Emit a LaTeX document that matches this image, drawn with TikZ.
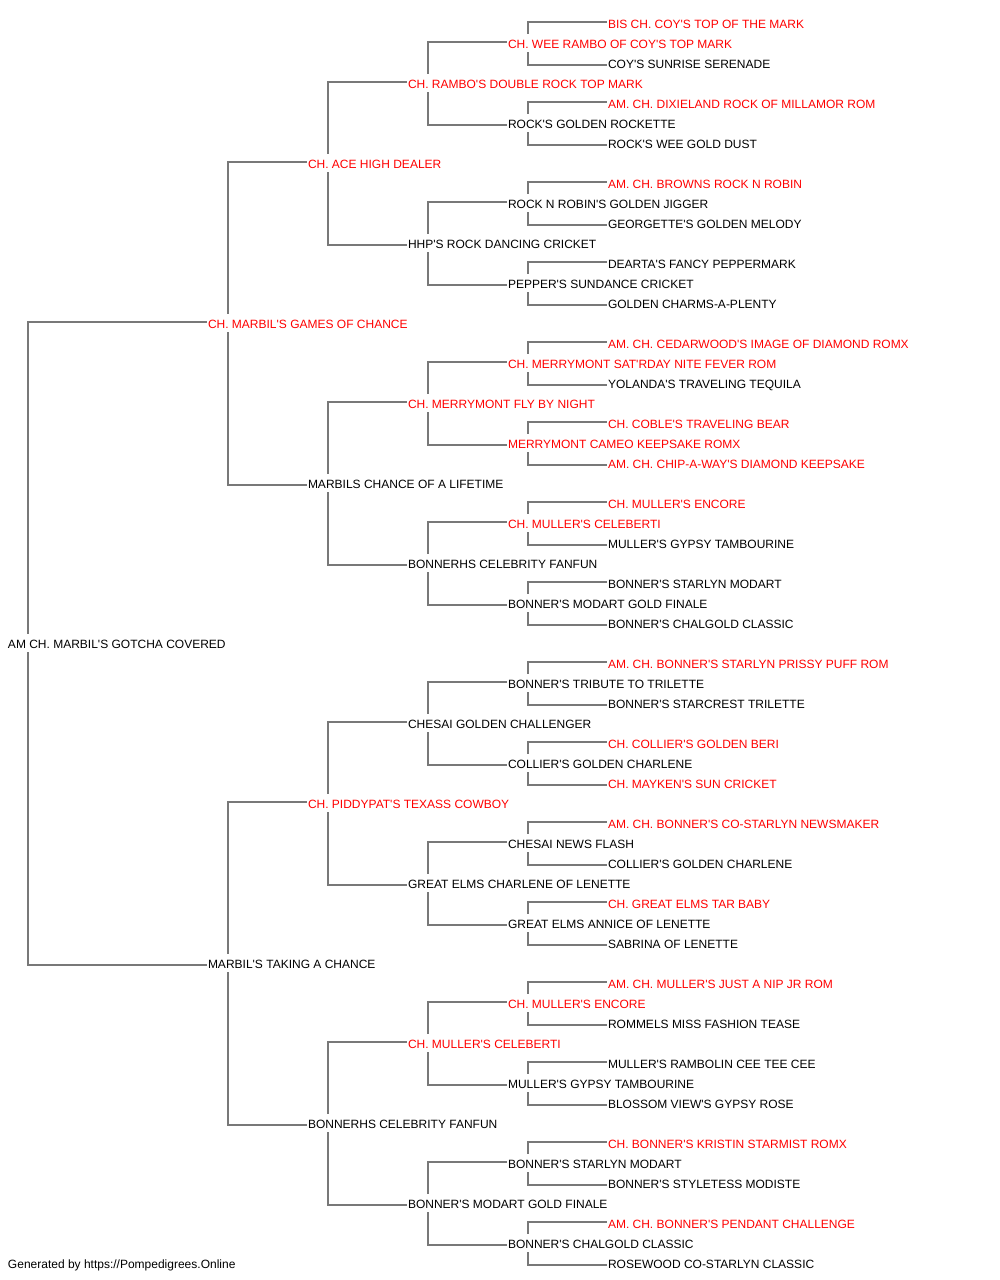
\documentclass[tikz,border=0pt]{standalone}
\usepackage{fontspec}
\setmainfont{Liberation Sans}[Ligatures=TeXOff]
\usetikzlibrary{calc}
\definecolor{linegray}{RGB}{120,120,120}
\definecolor{chred}{RGB}{255,0,0}
\tikzset{
  lbl/.style={anchor=west, inner sep=0pt, outer sep=0pt, text height=10pt, text depth=0pt,
    font=\fontsize{12}{14}\selectfont},
  conn/.style={draw=linegray, line width=1.3pt, line cap=rect}
}
\begin{document}
\begin{tikzpicture}[x=1pt, y=-1pt]
\useasboundingbox[fill=white] (0,0) rectangle (1000,1280);
\foreach \r/\g/\col/\t in {
0/5/chred/{BIS CH. COY'S TOP OF THE MARK},
1/4/chred/{CH. WEE RAMBO OF COY'S TOP MARK},
2/5/black/{COY'S SUNRISE SERENADE},
3/3/chred/{CH. RAMBO'S DOUBLE ROCK TOP MARK},
4/5/chred/{AM. CH. DIXIELAND ROCK OF MILLAMOR ROM},
5/4/black/{ROCK'S GOLDEN ROCKETTE},
6/5/black/{ROCK'S WEE GOLD DUST},
7/2/chred/{CH. ACE HIGH DEALER},
8/5/chred/{AM. CH. BROWNS ROCK N ROBIN},
9/4/black/{ROCK N ROBIN'S GOLDEN JIGGER},
10/5/black/{GEORGETTE'S GOLDEN MELODY},
11/3/black/{HHP'S ROCK DANCING CRICKET},
12/5/black/{DEARTA'S FANCY PEPPERMARK},
13/4/black/{PEPPER'S SUNDANCE CRICKET},
14/5/black/{GOLDEN CHARMS-A-PLENTY},
15/1/chred/{CH. MARBIL'S GAMES OF CHANCE},
16/5/chred/{AM. CH. CEDARWOOD'S IMAGE OF DIAMOND ROMX},
17/4/chred/{CH. MERRYMONT SAT'RDAY NITE FEVER ROM},
18/5/black/{YOLANDA'S TRAVELING TEQUILA},
19/3/chred/{CH. MERRYMONT FLY BY NIGHT},
20/5/chred/{CH. COBLE'S TRAVELING BEAR},
21/4/chred/{MERRYMONT CAMEO KEEPSAKE ROMX},
22/5/chred/{AM. CH. CHIP-A-WAY'S DIAMOND KEEPSAKE},
23/2/black/{MARBILS CHANCE OF A LIFETIME},
24/5/chred/{CH. MULLER'S ENCORE},
25/4/chred/{CH. MULLER'S CELEBERTI},
26/5/black/{MULLER'S GYPSY TAMBOURINE},
27/3/black/{BONNERHS CELEBRITY FANFUN},
28/5/black/{BONNER'S STARLYN MODART},
29/4/black/{BONNER'S MODART GOLD FINALE},
30/5/black/{BONNER'S CHALGOLD CLASSIC},
31/0/black/{AM CH. MARBIL'S GOTCHA COVERED},
32/5/chred/{AM. CH. BONNER'S STARLYN PRISSY PUFF ROM},
33/4/black/{BONNER'S TRIBUTE TO TRILETTE},
34/5/black/{BONNER'S STARCREST TRILETTE},
35/3/black/{CHESAI GOLDEN CHALLENGER},
36/5/chred/{CH. COLLIER'S GOLDEN BERI},
37/4/black/{COLLIER'S GOLDEN CHARLENE},
38/5/chred/{CH. MAYKEN'S SUN CRICKET},
39/2/chred/{CH. PIDDYPAT'S TEXASS COWBOY},
40/5/chred/{AM. CH. BONNER'S CO-STARLYN NEWSMAKER},
41/4/black/{CHESAI NEWS FLASH},
42/5/black/{COLLIER'S GOLDEN CHARLENE},
43/3/black/{GREAT ELMS CHARLENE OF LENETTE},
44/5/chred/{CH. GREAT ELMS TAR BABY},
45/4/black/{GREAT ELMS ANNICE OF LENETTE},
46/5/black/{SABRINA OF LENETTE},
47/1/black/{MARBIL'S TAKING A CHANCE},
48/5/chred/{AM. CH. MULLER'S JUST A NIP JR ROM},
49/4/chred/{CH. MULLER'S ENCORE},
50/5/black/{ROMMELS MISS FASHION TEASE},
51/3/chred/{CH. MULLER'S CELEBERTI},
52/5/black/{MULLER'S RAMBOLIN CEE TEE CEE},
53/4/black/{MULLER'S GYPSY TAMBOURINE},
54/5/black/{BLOSSOM VIEW'S GYPSY ROSE},
55/2/black/{BONNERHS CELEBRITY FANFUN},
56/5/chred/{CH. BONNER'S KRISTIN STARMIST ROMX},
57/4/black/{BONNER'S STARLYN MODART},
58/5/black/{BONNER'S STYLETESS MODISTE},
59/3/black/{BONNER'S MODART GOLD FINALE},
60/5/chred/{AM. CH. BONNER'S PENDANT CHALLENGE},
61/4/black/{BONNER'S CHALGOLD CLASSIC},
62/5/black/{ROSEWOOD CO-STARLYN CLASSIC}}{
  \pgfmathsetmacro\xx{\g==0 ? 8 : 108+100*\g}
  \pgfmathsetmacro\yy{23+20*\r}
  \node[lbl, text=\col] (n\r) at (\xx,\yy) {\t};
}
\node[lbl] (footer) at (8,1263) {Generated by https://Pompedigrees.Online};
\foreach \g in {0,...,4}{
  \pgfmathtruncatemacro\d{2^(4-\g)}
  \pgfmathtruncatemacro\n{2^\g}
  \foreach \k in {1,...,\n}{
    \pgfmathtruncatemacro\r{2*\d-1+4*\d*(\k-1)}
    \pgfmathtruncatemacro\ra{\r-\d}
    \pgfmathtruncatemacro\rb{\r+\d}
    \draw[conn] ($(n\r.west)+(20,-10)$) |- ($(n\ra.west)+(-2,-1)$);
    \draw[conn] ($(n\r.west)+(20,10)$) |- ($(n\rb.west)+(-2,2)$);
  }
}
\end{tikzpicture}
\end{document}
